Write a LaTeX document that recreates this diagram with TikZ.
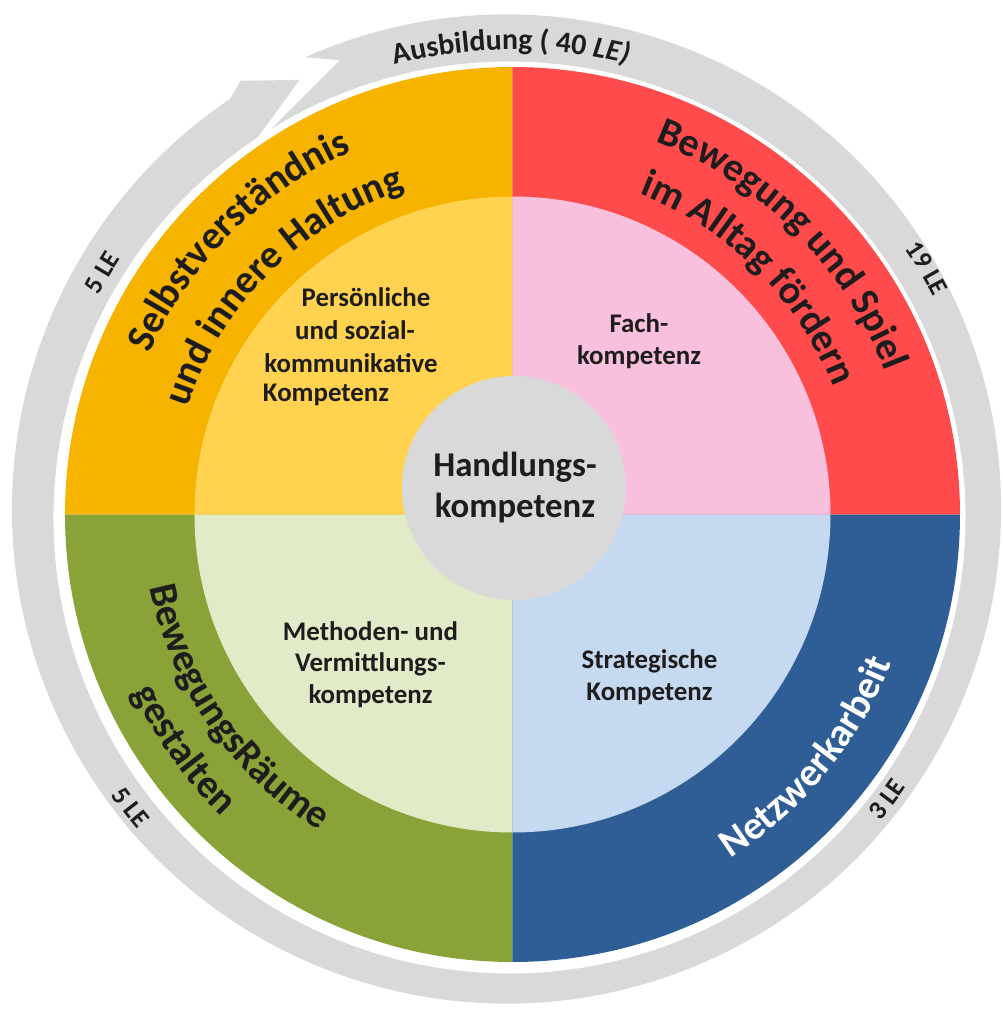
\documentclass[tikz,border=0pt]{standalone}
\usepackage{fontspec}
\setmainfont{Carlito}
\usetikzlibrary{calc,decorations.text}
\definecolor{cOrange}{RGB}{246,179,0}
\definecolor{cRed}{RGB}{255,75,75}
\definecolor{cGreen}{RGB}{137,163,56}
\definecolor{cBlue}{RGB}{47,93,150}
\definecolor{cYellow}{RGB}{255,210,80}
\definecolor{cPink}{RGB}{248,192,221}
\definecolor{cPale}{RGB}{226,235,199}
\definecolor{cLight}{RGB}{197,217,241}
\definecolor{cGrey}{RGB}{217,217,217}
\definecolor{txt}{RGB}{30,28,28}
\newcommand\bandfont{\fontsize{22.7}{27}\selectfont\bfseries}
\newcommand\ringfont{\fontsize{17}{20}\selectfont\bfseries}
\newcommand\lefont{\fontsize{15}{18}\selectfont\bfseries}
\tikzset{
  bandtext/.style={decorate, decoration={text along path, text align=center, text color=txt, text={|\bandfont|#1}}},
  bandtextw/.style={decorate, decoration={text along path, text align=center, text color=white, text={|\bandfont|#1}}},
  ringtext/.style={decorate, decoration={text along path, text align=center, text color=txt, text={|\lefont|#1}}},
  ctrtext/.style={font=\fontsize{19.8}{23.2}\selectfont\bfseries, align=center, text=txt, inner sep=0pt},
  quadtext/.style={font=\fontsize{15.3}{18}\selectfont\bfseries, align=center, text=txt, inner sep=0pt},
}
\begin{document}
\begin{tikzpicture}[x=0.02cm,y=0.02cm]
\useasboundingbox (-512.5,-494.5) rectangle (490.5,514.5);
\fill[white] (-512.5,-494.5) rectangle (490.5,514.5);
% grey circular arrow ring
\coordinate (oc) at (-6,5.5);
\coordinate (ic) at (-3,-3);
\fill[cGrey] ($(oc)+(114:494.5)$) arc[start angle=114, end angle=-236, radius=494.5]
  -- (122.1:512) -- (116.1:484) -- ($(ic)+(123.5:456)$)
  arc[start angle=-236.5, end angle=121.4, radius=456]
  -- (110.8:486) -- cycle;
% outer quadrants
\fill[cOrange] (0,0) -- (90:447.5) arc[start angle=90, end angle=180, radius=447.5] -- cycle;
\fill[cRed] (0,0) -- (0:447.5) arc[start angle=0, end angle=90, radius=447.5] -- cycle;
\fill[cGreen] (0,0) -- (180:447.5) arc[start angle=180, end angle=270, radius=447.5] -- cycle;
\fill[cBlue] (0,0) -- (270:447.5) arc[start angle=270, end angle=360, radius=447.5] -- cycle;
% inner quadrants
\fill[cYellow] (0,0) -- (90:318) arc[start angle=90, end angle=180, radius=318] -- cycle;
\fill[cPink] (0,0) -- (0:318) arc[start angle=0, end angle=90, radius=318] -- cycle;
\fill[cPale] (0,0) -- (180:318) arc[start angle=180, end angle=270, radius=318] -- cycle;
\fill[cLight] (0,0) -- (270:318) arc[start angle=270, end angle=360, radius=318] -- cycle;
% centre
\fill[cGrey] (1.5,26.5) circle[radius=112];
\node[ctrtext] (hk) at (2.5,27) {Handlungs-\\kompetenz};
% quadrant labels
\node[quadtext] (q1a) at (-146.5,217.5) {Persönliche};
\node[quadtext] (q1b) at (-157.5,184.5) {und sozial-};
\node[quadtext] (q1c) at (-161.5,151.5) {kommunikative};
\node[quadtext] (q1d) at (-186.5,119.5) {Kompetenz};
\node[quadtext] (q2) at (126.5,173.5) {Fach-\\kompetenz};
\node[quadtext] (q3) at (-142,-150) {Methoden- und\\Vermittlungs-\\kompetenz};
\node[quadtext] (q4) at (137,-162.5) {Strategische\\Kompetenz};
% band titles
\path[bandtext={Selbstverständnis}] (180:397) arc[start angle=180, end angle=90, radius=397];
\path[bandtext={und innere Haltung}] (180:342) arc[start angle=180, end angle=90, radius=342];
\path[bandtext={Bewegung und Spiel}] (90:399) arc[start angle=90, end angle=0, radius=399];
\path[bandtext={im Alltag fördern}] (90:345) arc[start angle=90, end angle=0, radius=345];
\path[bandtext={BewegungsRäume}] (170:370) arc[start angle=170, end angle=260, radius=370];
\path[bandtext={gestalten}] (170.6:419) arc[start angle=170.6, end angle=260.6, radius=419];
\path[bandtextw={Netzwerkarbeit}] (-84.5:407) arc[start angle=-84.5, end angle=5.5, radius=407];
% ring labels
\path[decorate, decoration={text along path, text align=center, text color=txt, text={|\ringfont|Ausbildung ( 40 |\ringfont\itshape|LE)}}] (135.2:465) arc[start angle=135.2, end angle=45.2, radius=465];
\path[ringtext={5 LE}] (179.5:468) arc[start angle=179.5, end angle=119.5, radius=468];
\path[ringtext={19 LE}] (60.7:474) arc[start angle=60.7, end angle=0.7, radius=474];
\path[ringtext={5 LE}] (187.5:490) arc[start angle=187.5, end angle=247.5, radius=490];
\path[ringtext={3 LE}] (-67.3:479) arc[start angle=-67.3, end angle=-7.3, radius=479];
\end{tikzpicture}
\end{document}
